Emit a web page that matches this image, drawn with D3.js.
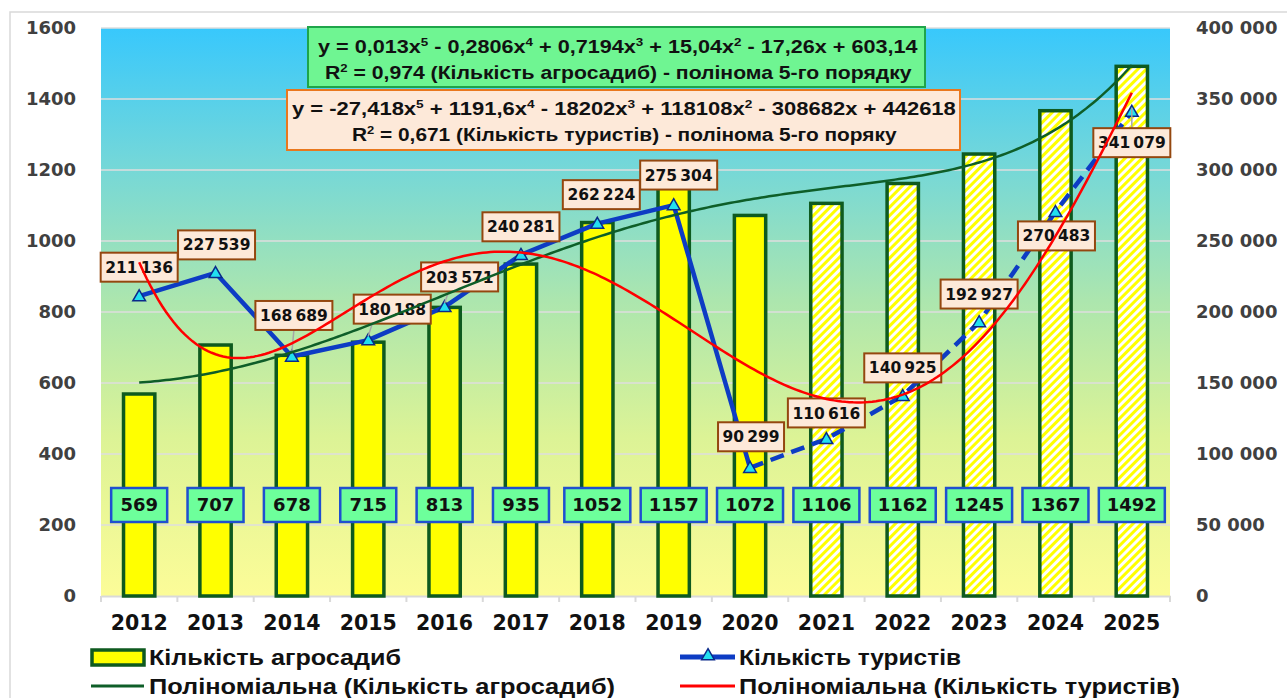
<!DOCTYPE html>
<html>
<head>
<meta charset="utf-8">
<script src="https://cdn.jsdelivr.net/npm/d3@7"></script>
<style>
  body { margin: 0; background: #fff; }
  svg { display: block; }
</style>
</head>
<body>
<svg id="chart" width="1287" height="698"></svg>
<script>
// дані
var years = ["2012", "2013", "2014", "2015", "2016", "2017", "2018", "2019", "2020", "2021", "2022", "2023", "2024", "2025"];
var agro = [569, 707, 678, 715, 813, 935, 1052, 1157, 1072, 1106, 1162, 1245, 1367, 1492];
var tourists = [211136, 227539, 168689, 180188, 203571, 240281, 262224, 275304, 90299, 110616, 140925, 192927, 270483, 341079];
var leftTicks = [0, 200, 400, 600, 800, 1000, 1200, 1400, 1600];
var rightTicks = [0, 50000, 100000, 150000, 200000, 250000, 300000, 350000, 400000];
// коефіцієнти трендів з підписів (x^5 ... x^0)
var agroTrendCoef = [0.013, -0.2806, 0.7194, 15.04, -17.26, 603.14];
var touristTrendCoef = [-27.418, 1191.6, -18202, 118108, -308682, 442618];
var forecastStart = "2021"; // заштриховані стовпці
var dashedStart = "2020";   // пунктир лінії туристів
var eqAgro = ["y = 0,013x^5 - 0,2806x^4 + 0,7194x^3 + 15,04x^2 - 17,26x + 603,14",
              "R^2 = 0,974 (Кількість агросадиб)  - полінома 5-го порядку"];
var eqTour = ["y = -27,418x^5 + 1191,6x^4 - 18202x^3 + 118108x^2 - 308682x + 442618",
              "R^2 = 0,671 (Кількість туристів) - полінома 5-го поряку"];
var legendNames = ["Кількість агросадиб", "Кількість туристів",
                   "Поліноміальна (Кількість агросадиб)", "Поліноміальна (Кількість туристів)"];

// зсуви підписів туристів відносно точки (лише розміщення)
var labelShift = [[0, -29], [1, -28], [2, -41], [24, -31], [15, -30], [0, -28], [4, -29],
                  [5, -30], [1, -31], [0, -26], [0, -28], [0, -28], [1, 24], [0, 31]];
var leaderOn = [0, 0, 1, 1, 1, 0, 0, 0, 0, 0, 0, 0, 0, 1];

var svg = d3.select("#chart");
var L = 101, R = 1170, T = 28, B = 596;

var x = d3.scaleBand().domain(years).range([L, R]).paddingInner(0).paddingOuter(0);
var yL = d3.scaleLinear().domain([0, 1600]).range([B, T]);
var yR = d3.scaleLinear().domain([0, 400000]).range([B, T]);
var cx = function (d) { return x(d) + x.bandwidth() / 2; };
var xt = d3.scaleLinear().domain([1, years.length]).range([cx(years[0]), cx(years[years.length - 1])]);

var defs = svg.append("defs");
var grad = defs.append("linearGradient").attr("id", "bg").attr("x1", 0).attr("y1", 0).attr("x2", 0).attr("y2", 1);
[[0, "#38c8fc"], [0.22, "#6fd6dc"], [0.48, "#acE6ae"], [0.72, "#dcf396"], [1, "#fcfc98"]].forEach(function (s) {
    grad.append("stop").attr("offset", s[0]).attr("stop-color", s[1]);
});
var pat = defs.append("pattern").attr("id", "hatch").attr("patternUnits", "userSpaceOnUse")
    .attr("width", 6).attr("height", 6).attr("patternTransform", "rotate(45)");
pat.append("rect").attr("width", 6).attr("height", 6).attr("fill", "#ffffff");
pat.append("rect").attr("width", 3).attr("height", 6).attr("fill", "#ffff00");

// рамка
svg.append("rect").attr("x", 10).attr("y", 12).attr("width", 1300).attr("height", 700)
    .attr("fill", "#fff").attr("stroke", "#d9d9d9").attr("stroke-width", 1.5);

// фон
svg.append("rect").attr("x", L).attr("y", T).attr("width", R - L).attr("height", B - T).attr("fill", "url(#bg)");

// сітка
svg.append("g").selectAll("line").data(leftTicks.slice(1)).enter().append("line")
    .attr("x1", L).attr("x2", R).attr("y1", function (d) { return yL(d); }).attr("y2", function (d) { return yL(d); })
    .attr("stroke", "#dedede").attr("stroke-width", 1.5);

// осі
var axL = svg.append("g").attr("transform", "translate(" + (L - 25) + ",0)")
    .call(d3.axisLeft(yL).tickValues(leftTicks).tickSize(0).tickPadding(0).tickFormat(d3.format("d")));
axL.select(".domain").remove();
axL.selectAll("text").attr("font-family", "DejaVu Sans").attr("font-weight", "bold")
    .attr("font-size", 18).attr("fill", "#404040");

var fmtR = function (d) { return d3.format(",")(d).replace(/,/g, " "); };
var axR = svg.append("g").attr("transform", "translate(" + (R + 26) + ",0)")
    .call(d3.axisRight(yR).tickValues(rightTicks).tickSize(0).tickPadding(0).tickFormat(fmtR));
axR.select(".domain").remove();
axR.selectAll("text").attr("font-family", "DejaVu Sans").attr("font-weight", "bold")
    .attr("font-size", 18).attr("fill", "#404040");

var axB = svg.append("g").attr("transform", "translate(0," + B + ")")
    .call(d3.axisBottom(x).tickSize(0).tickPadding(19));
axB.select(".domain").attr("stroke", "#d9d9d9").attr("stroke-width", 2);
axB.selectAll("text").attr("font-family", "DejaVu Sans").attr("font-weight", "bold")
    .attr("font-size", 20.5).attr("fill", "#111");
svg.append("g").selectAll("line").data(d3.range(years.length + 1)).enter().append("line")
    .attr("x1", function (i) { return L + i * x.step(); }).attr("x2", function (i) { return L + i * x.step(); })
    .attr("y1", B).attr("y2", B + 6).attr("stroke", "#d9d9d9").attr("stroke-width", 2);

// стовпці
var bw = x.bandwidth() * 0.41;
var fIdx = years.indexOf(forecastStart);
svg.append("g").selectAll("rect").data(agro).enter().append("rect")
    .attr("x", function (d, i) { return cx(years[i]) - bw / 2; })
    .attr("y", function (d) { return yL(d); })
    .attr("width", bw)
    .attr("height", function (d) { return B - yL(d); })
    .attr("fill", function (d, i) { return i >= fIdx ? "url(#hatch)" : "#ffff00"; })
    .attr("stroke", "#0e5a1f").attr("stroke-width", 3.5);

// підписи стовпців
var bl = svg.append("g").selectAll("g").data(agro).enter().append("g")
    .attr("transform", function (d, i) { return "translate(" + cx(years[i]) + ",505)"; });
bl.append("rect")
    .attr("x", function (d) { return String(d).length > 3 ? -33 : -28; })
    .attr("width", function (d) { return String(d).length > 3 ? 66 : 56; })
    .attr("y", -17).attr("height", 34)
    .attr("fill", "#6dff9b").attr("stroke", "#1f4fd0").attr("stroke-width", 2.5);
bl.append("text").text(function (d) { return d; })
    .attr("text-anchor", "middle").attr("dy", "0.36em")
    .attr("font-family", "DejaVu Sans").attr("font-weight", "bold").attr("font-size", 18).attr("fill", "#111");

// лінія туристів
var pts = tourists.map(function (d, i) { return [cx(years[i]), yR(d)]; });
var dIdx = years.indexOf(dashedStart);
var line = d3.line();
svg.append("path").attr("d", line(pts.slice(0, dIdx + 1)))
    .attr("fill", "none").attr("stroke", "#0d3cc4").attr("stroke-width", 4.5).attr("stroke-linejoin", "round");
svg.append("path").attr("d", line(pts.slice(dIdx)))
    .attr("fill", "none").attr("stroke", "#0d3cc4").attr("stroke-width", 4.5).attr("stroke-dasharray", "14,8");

// маркери
var tri = d3.symbol().type(d3.symbolTriangle).size(70);
svg.append("g").selectAll("path").data(pts).enter().append("path")
    .attr("d", tri).attr("transform", function (p) { return "translate(" + p[0] + "," + (p[1] + 1) + ")"; })
    .attr("fill", "#22e0f0").attr("stroke", "#0a2a8a").attr("stroke-width", 1.5);

// підписи туристів
var fmtT = function (d) { return d3.format(",")(d).replace(/,/g, "\u2009"); };
var tl = svg.append("g");
tourists.forEach(function (d, i) {
    var px = pts[i][0], py = pts[i][1];
    var bx = px + labelShift[i][0], by = py + labelShift[i][1];
    var w = String(d).length > 5 ? 77 : 66, h = 29;
    if (leaderOn[i]) {
        var ey = labelShift[i][1] < 0 ? by + h / 2 : by - h / 2;
        tl.append("line").attr("x1", bx - (labelShift[i][0] > 8 ? labelShift[i][0] - 4 : 0)).attr("y1", ey)
            .attr("x2", px).attr("y2", py - 4).attr("stroke", "#a6a6a6").attr("stroke-width", 1.5);
    }
    tl.append("rect").attr("x", bx - w / 2).attr("y", by - h / 2).attr("width", w).attr("height", h)
        .attr("fill", "#fde9d9").attr("stroke", "#94470f").attr("stroke-width", 2);
    tl.append("text").attr("x", bx).attr("y", by).attr("dy", "0.36em").attr("text-anchor", "middle")
        .attr("font-family", "DejaVu Sans").attr("font-weight", "bold").attr("font-size", 15.5)
        .attr("fill", "#111").text(fmtT(d));
});

// поліноміальні тренди
function poly(c, t) {
    return c.reduce(function (acc, k) { return acc * t + k; }, 0);
}
var ts = d3.range(1, years.length + 0.001, 0.05);
var trend = d3.line();
svg.append("path")
    .attr("d", trend(ts.map(function (t) { return [xt(t), yL(poly(agroTrendCoef, t))]; })))
    .attr("fill", "none").attr("stroke", "#0e5e28").attr("stroke-width", 2.5);
svg.append("path")
    .attr("d", trend(ts.map(function (t) { return [xt(t), yR(poly(touristTrendCoef, t))]; })))
    .attr("fill", "none").attr("stroke", "#ff0000").attr("stroke-width", 2.5);

// текст з верхніми індексами, стиснутий до ширини
function richText(g, str, x0, y0, width, size) {
    var t = g.append("text").attr("font-family", "Liberation Sans").attr("font-weight", "bold")
        .attr("font-size", size).attr("fill", "#111");
    var parts = str.split(/\^(\d)/);
    parts.forEach(function (p, k) {
        if (k % 2 === 0) {
            t.append("tspan").attr("dy", k === 0 ? 0 : 7).text(p);
        } else {
            t.append("tspan").attr("dy", -7).attr("font-size", size * 0.62).text(p);
        }
    });
    var len = t.node().getComputedTextLength();
    t.attr("transform", "translate(" + x0 + "," + y0 + ") scale(" + (width / len) + ",1)");
    return t;
}
function plainText(g, str, x0, y0, width, size) {
    return g.append("text").attr("x", x0).attr("y", y0)
        .attr("font-family", "Liberation Sans").attr("font-weight", "bold")
        .attr("font-size", size).attr("fill", "#111")
        .attr("textLength", width).attr("lengthAdjust", "spacingAndGlyphs").text(str);
}

// рівняння
var eq = svg.append("g");
eq.append("rect").attr("x", 308).attr("y", 27).attr("width", 617).attr("height", 60)
    .attr("fill", "#6ff592").attr("stroke", "#1fa54a").attr("stroke-width", 2);
richText(eq, eqAgro[0], 318, 53, 600, 19);
richText(eq, eqAgro[1], 325, 79, 587, 19);
eq.append("rect").attr("x", 287).attr("y", 90).attr("width", 673).attr("height", 60)
    .attr("fill", "#fde9d9").attr("stroke", "#e9781e").attr("stroke-width", 2);
richText(eq, eqTour[0], 292, 115, 664, 19);
richText(eq, eqTour[1], 352, 141, 545, 19);

// легенда
var lg = svg.append("g");
lg.append("rect").attr("x", 92).attr("y", 650).attr("width", 52).attr("height", 15)
    .attr("fill", "#ffff00").attr("stroke", "#0e5a1f").attr("stroke-width", 3.5);
lg.append("line").attr("x1", 680).attr("x2", 735).attr("y1", 657).attr("y2", 657)
    .attr("stroke", "#0d3cc4").attr("stroke-width", 5);
lg.append("path").attr("d", tri).attr("transform", "translate(708,656)")
    .attr("fill", "#22e0f0").attr("stroke", "#0a2a8a").attr("stroke-width", 1.5);
lg.append("line").attr("x1", 91).attr("x2", 144).attr("y1", 686).attr("y2", 686)
    .attr("stroke", "#0e5e28").attr("stroke-width", 3);
lg.append("line").attr("x1", 680).attr("x2", 735).attr("y1", 686).attr("y2", 686)
    .attr("stroke", "#ff0000").attr("stroke-width", 3);
plainText(lg, legendNames[0], 149, 665, 252, 21.5);
plainText(lg, legendNames[1], 739, 665, 222, 21.5);
plainText(lg, legendNames[2], 149, 694, 466, 21.5);
plainText(lg, legendNames[3], 739, 694, 441, 21.5);
</script>
</body>
</html>
